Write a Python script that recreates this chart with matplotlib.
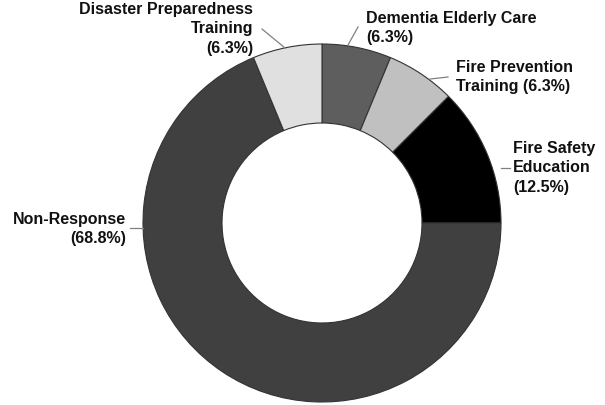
import matplotlib.pyplot as plt

plt.rcParams["font.family"] = ["Liberation Sans", "DejaVu Sans"]

# data (clockwise from 12 o'clock)
categories = ["Dementia Elderly Care", "Fire Prevention", "Fire Safety\nEducation",
              "Non-Response", "Disaster Preparedness\nTraining"]
counts = [1, 1, 2, 11, 1]
pct_labels = ["6.3%", "6.3%", "12.5%", "68.8%", "6.3%"]
colors = ["#5e5e5e", "#c0c0c0", "#000000", "#404040", "#e0e0e0"]

W, H = 605, 405
fig = plt.figure(figsize=(W / 100, H / 100), dpi=100)
ax = fig.add_axes([0, 0, 1, 1])

cx, cy, r = 322, H - 223, 179
ax.pie(counts, colors=colors, startangle=90, counterclock=False,
       center=(cx, cy), radius=r, frame=True,
       wedgeprops=dict(width=r - 100, edgecolor="#333333", linewidth=0.8))
ax.set_xlim(0, W)
ax.set_ylim(0, H)
ax.set_aspect("equal")
ax.axis("off")

txt = dict(fontsize=11.5, fontweight="bold", color="#111111", linespacing=1.35)
line = dict(color="#808080", linewidth=0.9)

# (text x, text y, ha, leader start, leader end) in pixel coords from top-left
layout = [
    (366, 28, "left", (348, 45), (358, 27)),
    (456, 77, "left", (430, 79), (448, 77)),
    (513, 168, "left", (501, 168), (510, 168)),
    (126, 229, "right", (143, 228), (130, 228)),
    (253, 29, "right", (285, 48), (262, 29)),
]

for name, pct, (tx, ty, ha, p0, p1) in zip(categories, pct_labels, layout):
    if name == "Fire Prevention":
        label = f"{name}\nTraining ({pct})"
    else:
        label = f"{name}\n({pct})"
    ax.plot([p0[0], p1[0]], [H - p0[1], H - p1[1]], **line)
    ax.text(tx, H - ty, label, ha=ha, va="center", multialignment=ha, **txt)

fig.savefig("out.png", dpi=100)
